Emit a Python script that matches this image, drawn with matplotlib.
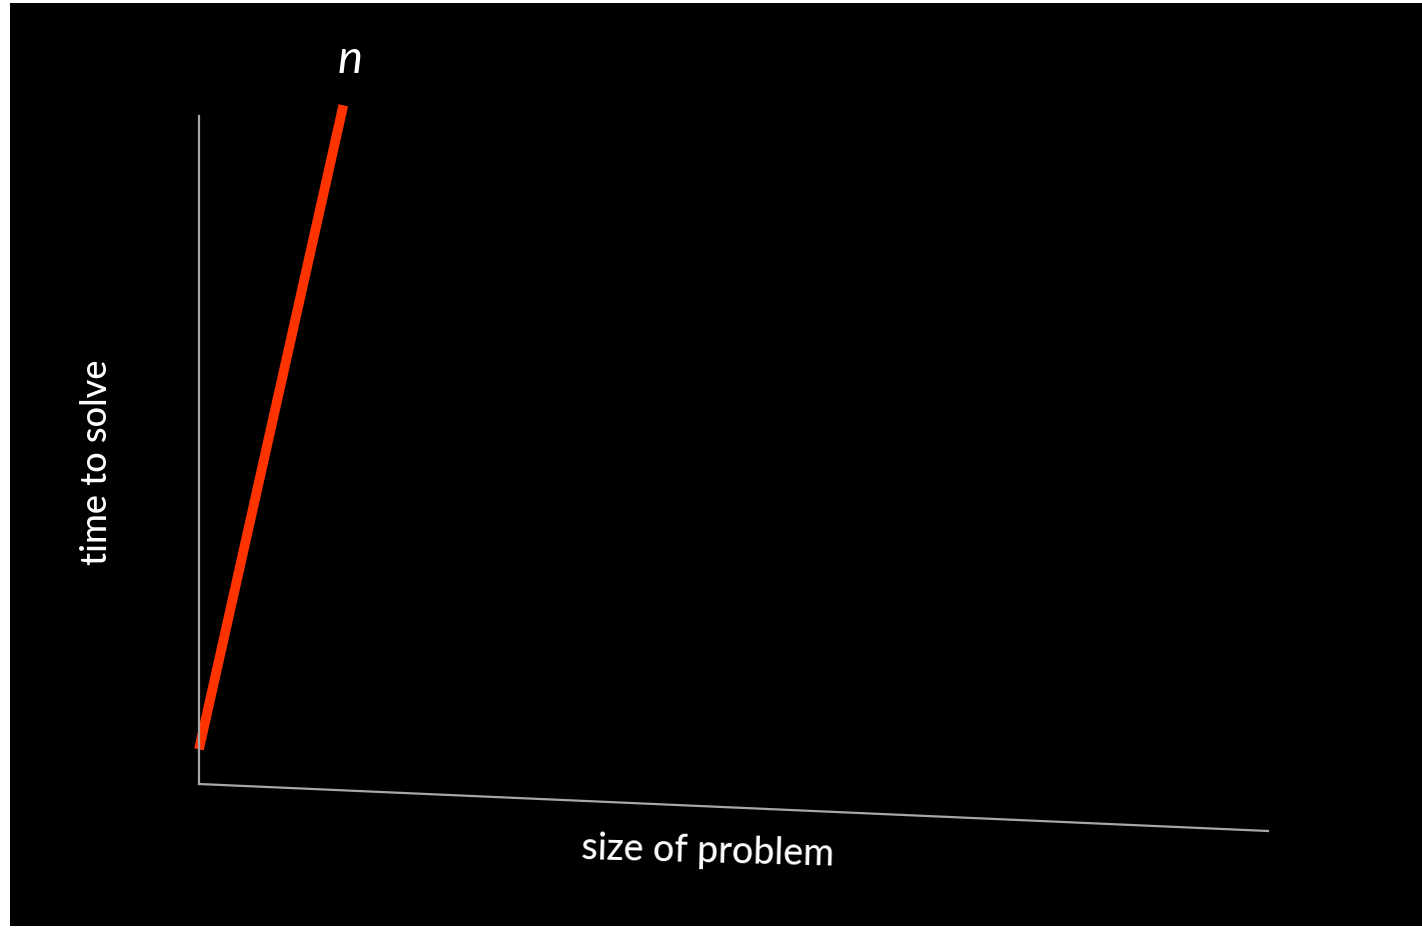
import matplotlib
matplotlib.use('Agg')
import matplotlib.pyplot as plt
from matplotlib.patches import Rectangle
from matplotlib.lines import Line2D

# the one curve on the slide: linear growth, "n"
problem_size = [0.0, 1.35]
solve_time = [0.52, 10.16]
curve_label = 'n'

x_label = 'size of problem'
y_label = 'time to solve'

W, H = 1422, 929
fig = plt.figure(figsize=(W / 100, H / 100), dpi=100, facecolor='white')

# black slide area (screenshot has a thin white edge left/top)
fig.patches.append(Rectangle((10 / W, 2 / H), 1 - 10 / W, 1 - 6 / H,
                             transform=fig.transFigure, facecolor='black',
                             edgecolor='none', zorder=-10))

left, bottom = 199 / W, 1 - 785 / H
width, height = (1268 - 199) / W, (785 - 117) / H
ax = fig.add_axes([left, bottom, width, height])
ax.set_facecolor('none')
ax.set_xlim(0, 10)
ax.set_ylim(0, 10)
ax.set_xticks([])
ax.set_yticks([])
for side in ['top', 'right', 'bottom']:
    ax.spines[side].set_visible(False)
ax.spines['left'].set_color('#a8a8a8')
ax.spines['left'].set_linewidth(1.6)

# x axis in the video is a little tilted
ax.add_line(Line2D([0, 1], [0, -47 / 668], transform=ax.transAxes,
                   color='#a8a8a8', lw=1.6, clip_on=False))

ax.plot(problem_size, solve_time, color='#ff3300', lw=7,
        solid_capstyle='butt', clip_on=False)
ax.text(problem_size[-1] + 0.06, solve_time[-1] + 0.7, curve_label,
        color='white', fontsize=34, style='italic', family='Lato',
        ha='center', va='center')

fig.text(708 / W, 1 - 852 / H, x_label, color='white', fontsize=27,
         family='Lato', fontweight='medium', ha='center', va='center',
         rotation=-1.5)
fig.text(97 / W, 1 - 462 / H, y_label, color='white', fontsize=26,
         family='Lato', fontweight='medium', ha='center', va='center',
         rotation=90)

fig.savefig('out.png', dpi=100, facecolor='white')
